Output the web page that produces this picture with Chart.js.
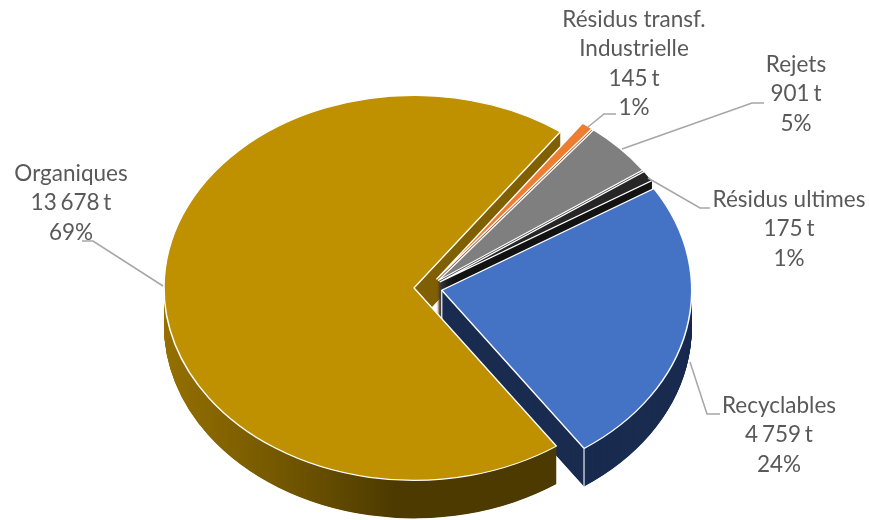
<!DOCTYPE html>
<html>
<head>
<meta charset="utf-8">
<script src="https://cdn.jsdelivr.net/npm/chart.js@4/dist/chart.umd.min.js"></script>
<style>html,body{margin:0;padding:0;background:#fff}canvas{display:block}</style>
</head>
<body>
<canvas id="c" width="869" height="520"></canvas>
<script>
const categories = ['Organiques', 'Résidus transf.\nIndustrielle', 'Rejets', 'Résidus ultimes', 'Recyclables'];
const tonnages = [13678, 145, 901, 175, 4759];
const valueLabels = ['13 678 t', '145 t', '901 t', '175 t', '4 759 t'];
const percentLabels = ['69%', '1%', '5%', '1%', '24%'];
const topColors = ['#BF9000', '#ED7D31', '#7F7F7F', '#262626', '#4472C4'];
const wallColors = [null, '#8A4A1C', '#404040', '#141414', '#1A2B50'];

const radiusPx = 250, explodePx = 56;
const rotationDeg = 145.3, tilt = 0.77, depth = 38, targetY = 288;
// label placement: centre x, first-line y, line gap, leader polyline
const labelX = [71, 634, 796, 789, 779];
const labelY = [174, 20, 65, 200, 406];
const lineGap = 29.2;
const leaders = [
  [[163,286],[93,241],[82,241]],
  [[588,127],[604,114],[616,114]],
  [[622,149],[752,103],[764,103]],
  [[648,178],[700,208],[710,208]],
  [[690,362],[707,414],[720,414]]
];

const pie3d = {
  id: 'pie3d',
  afterDatasetsUpdate(chart) {
    // keep every exploded slice at the same radius and full angular width
    chart.getDatasetMeta(0).data.forEach(el => {
      const grow = (explodePx / 4) * (1 - Math.sin(Math.min(Math.PI, el.circumference)));
      el.outerRadius = radiusPx - grow;
      const delta = (grow / Math.PI) / el.outerRadius / 2;
      el.startAngle -= delta;
      el.endAngle += delta;
    });
  },
  beforeDatasetsDraw(chart) {
    const ctx = chart.ctx, arcs = chart.getDatasetMeta(0).data;
    const cy = arcs[0].y;
    ctx.save();
    ctx.translate(0, targetY);
    ctx.scale(1, tilt);
    ctx.translate(0, -cy);
    const grad = ctx.createLinearGradient(163, 0, 560, 0);
    grad.addColorStop(0, '#997300');
    grad.addColorStop(0.32, '#755800');
    grad.addColorStop(0.62, '#4C3A00');
    grad.addColorStop(1, '#4C3A00');
    const paint = (el, fill) => {
      const orig = el.options;
      el.options = {backgroundColor: fill, borderColor: fill, borderWidth: 0, offset: orig.offset,
        spacing: 0, circular: true, borderRadius: 0, borderAlign: 'center', borderJoinStyle: 'round'};
      el.draw(ctx);
      el.options = orig;
    };
    for (let d = depth; d >= 1; d -= 0.5) {
      const dy = d / tilt;
      ctx.save();
      ctx.translate(0, dy);
      arcs.forEach((el, i) => paint(el, i === 0 ? grad : wallColors[i]));
      ctx.restore();
      // the cut face of the large slice that shows at the upper right
      ctx.save();
      ctx.beginPath();
      ctx.rect(400, cy - 300, 200, 300 + 50 / tilt);
      ctx.clip();
      ctx.translate(0, dy);
      paint(arcs[0], '#997300');
      ctx.restore();
    }
    // inner edge of the blue wall, mostly hidden by the top faces
    const blue = arcs[4];
    const half = (blue.startAngle + blue.endAngle) / 2;
    const ax = blue.x + Math.cos(half) * explodePx / 4;
    const ay = blue.y + Math.sin(half) * explodePx / 4;
    ctx.strokeStyle = '#D9D9D9';
    ctx.lineWidth = 1.5;
    ctx.beginPath();
    ctx.moveTo(ax, ay);
    ctx.lineTo(ax, ay + depth / tilt);
    ctx.stroke();
  },
  afterDatasetsDraw(chart) {
    const ctx = chart.ctx, arcs = chart.getDatasetMeta(0).data;
    ctx.restore();
    // vertical corner line of the blue slice
    const el = arcs[4];
    const half = (el.startAngle + el.endAngle) / 2;
    const o = el.options.offset / 4;
    const ox = el.x + Math.cos(half) * o + Math.cos(el.endAngle) * el.outerRadius;
    const yTop = targetY + (Math.sin(half) * o + Math.sin(el.endAngle) * el.outerRadius) * tilt;
    ctx.save();
    ctx.strokeStyle = '#e8ecf4';
    ctx.lineWidth = 1.2;
    ctx.beginPath();
    ctx.moveTo(ox, yTop);
    ctx.lineTo(ox, yTop + depth);
    ctx.stroke();
    ctx.restore();

    ctx.save();
    ctx.strokeStyle = '#A6A6A6';
    ctx.lineWidth = 1.5;
    leaders.forEach(pts => {
      ctx.beginPath();
      pts.forEach((p, i) => i ? ctx.lineTo(p[0], p[1]) : ctx.moveTo(p[0], p[1]));
      ctx.stroke();
    });
    ctx.fillStyle = '#595959';
    ctx.font = '400 22.5px Lato';
    ctx.textAlign = 'center';
    ctx.textBaseline = 'middle';
    categories.forEach((cat, i) => {
      const names = cat.split('\n');
      names.forEach((t, j) => ctx.fillText(t, labelX[i], labelY[i] + j * lineGap));
      ctx.wordSpacing = '-2px';
      ctx.fillText(valueLabels[i], labelX[i], labelY[i] + names.length * lineGap);
      ctx.wordSpacing = '0px';
      ctx.fillText(percentLabels[i], labelX[i], labelY[i] + (names.length + 1) * lineGap);
    });
    ctx.restore();
  }
};

new Chart(document.getElementById('c'), {
  type: 'pie',
  data: {
    labels: categories,
    datasets: [{
      data: tonnages,
      backgroundColor: topColors,
      borderColor: '#FFFFFF',
      borderWidth: 1.5,
      offset: explodePx,
      hoverOffset: 0,
      clip: false
    }]
  },
  options: {
    responsive: false,
    animation: false,
    rotation: rotationDeg,
    radius: radiusPx,
    layout: {padding: {right: 13}},
    plugins: {legend: {display: false}, tooltip: {enabled: false}, title: {display: false}}
  },
  plugins: [pie3d]
});
</script>
</body>
</html>
